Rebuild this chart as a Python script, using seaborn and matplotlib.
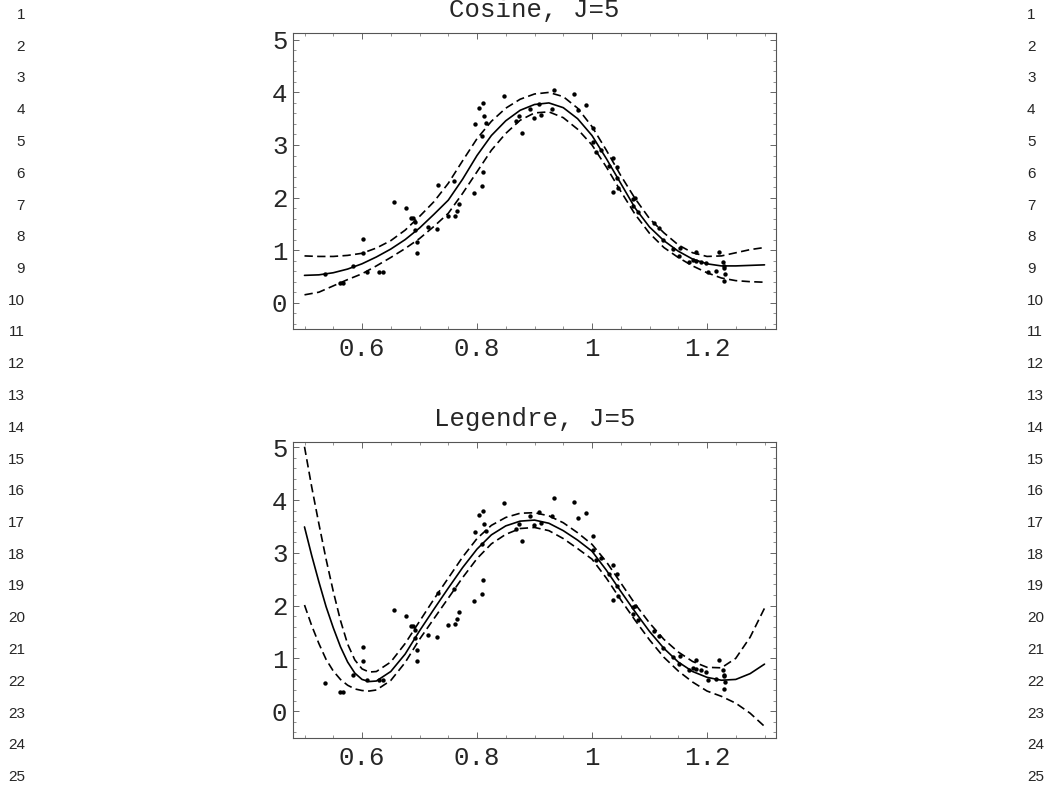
import matplotlib
matplotlib.use('Agg')
import matplotlib.pyplot as plt
from matplotlib.ticker import MultipleLocator
import seaborn as sns

# observed points (same data in both panels)
x_pts = [0.536, 0.562, 0.567, 0.585, 0.601, 0.602, 0.608, 0.630, 0.637, 0.656,
         0.676, 0.685, 0.688, 0.693, 0.693, 0.696, 0.696, 0.715, 0.730, 0.733,
         0.749, 0.760, 0.762, 0.766, 0.768, 0.795, 0.797, 0.804, 0.808, 0.808,
         0.811, 0.811, 0.812, 0.816, 0.847, 0.867, 0.873, 0.878, 0.892, 0.899,
         0.907, 0.911, 0.930, 0.934, 0.969, 0.976, 0.990, 1.002, 1.002, 1.007,
         1.016, 1.030, 1.036, 1.036, 1.043, 1.046, 1.044, 1.072, 1.075, 1.071,
         1.080, 1.108, 1.116, 1.124, 1.140, 1.153, 1.152, 1.169, 1.176, 1.181,
         1.181, 1.190, 1.199, 1.202, 1.216, 1.220, 1.228, 1.229, 1.231, 1.229,
         1.230]
y_pts = [0.54, 0.37, 0.37, 0.69, 1.21, 0.94, 0.58, 0.58, 0.58, 1.92,
         1.80, 1.61, 1.61, 1.54, 1.39, 1.15, 0.94, 1.44, 1.41, 2.23,
         1.64, 2.31, 1.65, 1.75, 1.88, 2.08, 3.39, 3.71, 3.17, 2.22,
         2.49, 3.79, 3.55, 3.42, 3.94, 3.45, 3.55, 3.23, 3.69, 3.52,
         3.78, 3.57, 3.69, 4.04, 3.97, 3.66, 3.76, 3.32, 3.05, 2.87,
         2.90, 2.60, 2.76, 2.10, 2.38, 2.18, 2.59, 1.97, 1.99, 1.84,
         1.73, 1.52, 1.42, 1.20, 1.02, 1.04, 0.89, 0.78, 0.81, 0.97,
         0.80, 0.77, 0.75, 0.59, 0.61, 0.97, 0.77, 0.66, 0.55, 0.42,
         0.69]

# cosine fit, J=5
x_cos = [0.5, 0.525, 0.55, 0.575, 0.6, 0.625, 0.65, 0.675, 0.7, 0.725, 0.75,
         0.775, 0.8, 0.825, 0.85, 0.875, 0.9, 0.925, 0.95, 0.975, 1.0, 1.025,
         1.05, 1.075, 1.1, 1.125, 1.15, 1.175, 1.2, 1.225, 1.25, 1.275, 1.3]
cos_fit = [0.52, 0.53, 0.57, 0.64, 0.74, 0.87, 1.02, 1.20, 1.42, 1.68,
           1.95, 2.35, 2.80, 3.18, 3.46, 3.66, 3.77, 3.80, 3.71, 3.50,
           3.18, 2.74, 2.27, 1.80, 1.44, 1.18, 0.98, 0.83, 0.74, 0.70,
           0.70, 0.71, 0.72]
cos_hi = [0.89, 0.88, 0.88, 0.90, 0.94, 1.04, 1.18, 1.38, 1.64, 1.92,
          2.27, 2.70, 3.12, 3.45, 3.70, 3.87, 3.97, 4.00, 3.92, 3.70,
          3.35, 2.90, 2.42, 1.98, 1.60, 1.33, 1.10, 0.95, 0.88, 0.89,
          0.95, 1.01, 1.05]
cos_lo = [0.15, 0.20, 0.32, 0.44, 0.55, 0.70, 0.86, 1.03, 1.22, 1.45,
          1.70, 2.08, 2.49, 2.90, 3.22, 3.47, 3.61, 3.63, 3.52, 3.30,
          3.00, 2.58, 2.12, 1.68, 1.32, 1.05, 0.86, 0.70, 0.57, 0.47,
          0.42, 0.40, 0.39]

# legendre fit, J=5
x_leg = [0.5, 0.5125, 0.525, 0.5375, 0.55, 0.5625, 0.575, 0.5875, 0.6, 0.6125,
         0.625, 0.65, 0.675, 0.7, 0.725, 0.75, 0.775, 0.8, 0.825, 0.85, 0.875,
         0.9, 0.925, 0.95, 0.975, 1.0, 1.025, 1.05, 1.075, 1.1, 1.125, 1.15,
         1.175, 1.2, 1.225, 1.25, 1.275, 1.3]
leg_fit = [3.49, 2.95, 2.45, 1.98, 1.58, 1.22, 0.93, 0.72, 0.60, 0.56,
           0.57, 0.75, 1.08, 1.52, 1.93, 2.33, 2.72, 3.07, 3.34, 3.51, 3.60,
           3.62, 3.56, 3.42, 3.24, 3.03, 2.67, 2.27, 1.88, 1.51, 1.19, 0.93,
           0.75, 0.64, 0.585, 0.60, 0.71, 0.89]
leg_hi = [5.01, 4.25, 3.55, 2.88, 2.27, 1.72, 1.27, 0.97, 0.80, 0.74,
          0.75, 0.93, 1.28, 1.70, 2.12, 2.52, 2.92, 3.27, 3.52, 3.67, 3.75,
          3.76, 3.70, 3.57, 3.38, 3.16, 2.83, 2.43, 2.03, 1.67, 1.36, 1.12,
          0.94, 0.83, 0.82, 1.00, 1.40, 1.95]
leg_lo = [2.01, 1.62, 1.28, 0.98, 0.76, 0.60, 0.49, 0.42, 0.39, 0.38,
          0.40, 0.58, 0.92, 1.36, 1.75, 2.14, 2.53, 2.89, 3.17, 3.35, 3.46,
          3.48, 3.42, 3.27, 3.08, 2.88, 2.52, 2.11, 1.72, 1.35, 1.02, 0.76,
          0.55, 0.38, 0.28, 0.15, -0.04, -0.29]

x_ticks = [0.6, 0.8, 1.0, 1.2]
x_labels = ['0.6', '0.8', '1', '1.2']
y_ticks = [0, 1, 2, 3, 4, 5]

sns.set_theme(style='white')
plt.rcParams['font.family'] = ['Liberation Mono', 'DejaVu Sans']

W, H = 1047, 789
fig = plt.figure(figsize=(W / 100, H / 100), dpi=100)


def panel(ax, xs, fit, hi, lo, title, ylim):
    sns.scatterplot(x=x_pts, y=y_pts, ax=ax, color='black', s=10,
                    linewidth=0, zorder=3)
    sns.lineplot(x=xs, y=fit, ax=ax, color='black', lw=1.2)
    sns.lineplot(x=xs, y=hi, ax=ax, color='black', lw=1.2,
                 linestyle=(0, (5, 2.6)))
    sns.lineplot(x=xs, y=lo, ax=ax, color='black', lw=1.2,
                 linestyle=(0, (5, 2.6)))
    ax.set_xlim(0.48, 1.32)
    ax.set_ylim(*ylim)
    ax.set_xticks(x_ticks, x_labels)
    ax.set_yticks(y_ticks)
    ax.xaxis.set_minor_locator(MultipleLocator(0.05))
    ax.yaxis.set_minor_locator(MultipleLocator(0.2))
    ax.tick_params(which='both', direction='in', bottom=True, left=True,
                   top=True, right=True, color='#666666')
    ax.tick_params(which='major', length=4, width=0.7, labelsize=18.5)
    ax.tick_params(which='minor', length=2, width=0.5)
    ax.tick_params(axis='x', pad=6)
    ax.tick_params(axis='y', pad=4)
    for s in ax.spines.values():
        s.set_color('#555555')
        s.set_linewidth(0.8)
    ax.set_xlabel('')
    ax.set_ylabel('')
    ax.text(0.5, 1 + 23 / 296, title, transform=ax.transAxes,
            ha='center', va='center', fontsize=18.5)


ax1 = fig.add_axes([293 / W, 1 - 329 / H, 483 / W, 296 / H])
panel(ax1, x_cos, cos_fit, cos_hi, cos_lo, 'Cosine, J=5', (-0.5, 5.13))

ax2 = fig.add_axes([293 / W, 1 - 738 / H, 483 / W, 296 / H])
panel(ax2, x_leg, leg_fit, leg_hi, leg_lo, 'Legendre, J=5', (-0.51, 5.1))

# line numbers in both margins
for i in range(25):
    yy = 1 - (15 + i * 31.75) / H
    fig.text(25 / W, yy, str(i + 1), ha='right', va='center',
             fontsize=11, family='Liberation Sans')
    fig.text(1027 / W, yy, str(i + 1), ha='left', va='center',
             fontsize=11, family='Liberation Sans')

fig.savefig('out.png', dpi=100)
